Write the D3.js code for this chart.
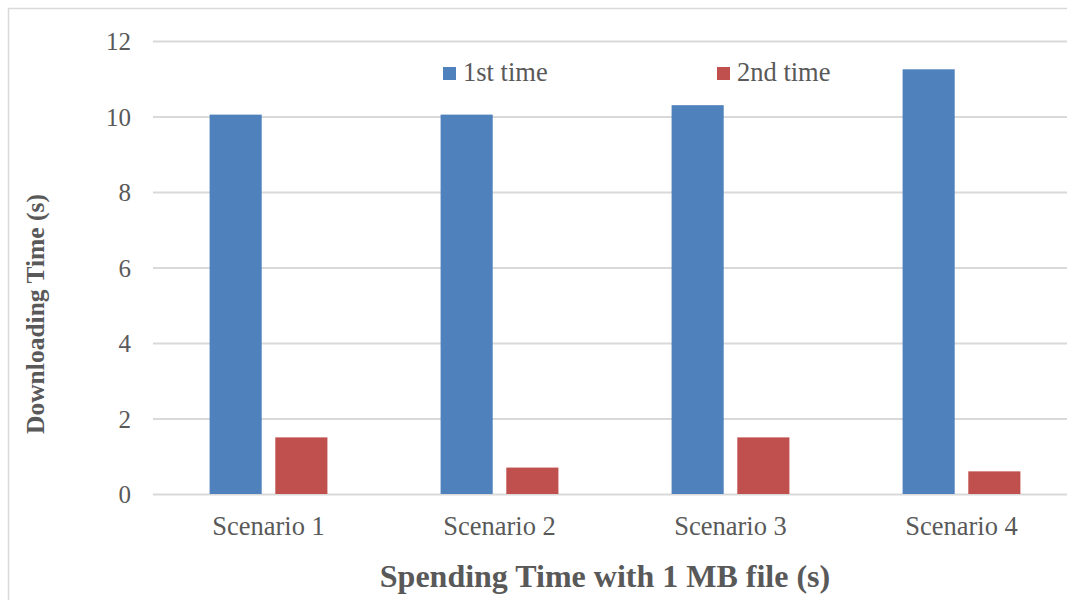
<!DOCTYPE html>
<html>
<head>
<meta charset="utf-8">
<script src="https://cdn.jsdelivr.net/npm/d3@7"></script>
<style>
  html, body { margin: 0; padding: 0; background: #ffffff; }
  svg { display: block; }
</style>
</head>
<body>
<svg id="chart" width="1067" height="600"></svg>
<script>
// Download times for a 1 MB file, first and second attempt per scenario
const categories = ["Scenario 1", "Scenario 2", "Scenario 3", "Scenario 4"];
const seriesNames = ["1st time", "2nd time"];
const firstTime = [10.05, 10.05, 10.3, 11.25];
const secondTime = [1.5, 0.7, 1.5, 0.6];
const yTicks = [0, 2, 4, 6, 8, 10, 12];
const colors = ["#4F81BD", "#C0504D"];

const svg = d3.select("#chart");
const font = "'Liberation Serif', 'Times New Roman', serif";
const textColor = "#595959";

// chart frame
svg.append("rect")
  .attr("x", 8.5).attr("y", 8.5)
  .attr("width", 1200).attr("height", 700)
  .attr("fill", "#ffffff")
  .attr("stroke", "#D9D9D9")
  .attr("stroke-width", 1.5);

const plot = { left: 153, right: 1077, top: 41, bottom: 494 };

const x = d3.scaleBand()
  .domain(categories)
  .range([plot.left, plot.right])
  .paddingInner(0.49)
  .paddingOuter(0.245);

const xInner = d3.scaleBand()
  .domain(seriesNames)
  .range([0, x.bandwidth()])
  .paddingInner(0.207)
  .paddingOuter(0);

const y = d3.scaleLinear()
  .domain([0, 12])
  .range([plot.bottom, plot.top]);

// horizontal gridlines
const yAxis = d3.axisLeft(y)
  .tickValues(yTicks)
  .tickSize(-(plot.right - plot.left))
  .tickPadding(22)
  .tickFormat(d3.format("d"));

const gy = svg.append("g")
  .attr("transform", `translate(${plot.left},0)`)
  .call(yAxis);
gy.select(".domain").remove();
gy.selectAll(".tick line")
  .attr("stroke", "#D9D9D9")
  .attr("stroke-width", 2);
gy.selectAll(".tick text")
  .attr("fill", textColor)
  .style("font-family", font)
  .style("font-size", "25px")
  .attr("dy", "0.34em");

// bars
const data = categories.map((c, i) => ({
  category: c,
  values: [
    { name: seriesNames[0], value: firstTime[i], color: colors[0] },
    { name: seriesNames[1], value: secondTime[i], color: colors[1] }
  ]
}));

const groups = svg.append("g").selectAll("g")
  .data(data)
  .join("g")
  .attr("transform", d => `translate(${x(d.category)},0)`);

groups.selectAll("rect")
  .data(d => d.values)
  .join("rect")
  .attr("x", d => xInner(d.name))
  .attr("y", d => y(d.value))
  .attr("width", xInner.bandwidth())
  .attr("height", d => y(0) - y(d.value))
  .attr("fill", d => d.color);

// category labels
const xAxis = d3.axisBottom(x).tickSize(0).tickPadding(22);
const gx = svg.append("g")
  .attr("transform", `translate(0,${plot.bottom})`)
  .call(xAxis);
gx.select(".domain").remove();
gx.selectAll(".tick text")
  .attr("fill", textColor)
  .style("font-family", font)
  .style("font-size", "26.5px");

// legend
const legendX = [443, 717];
const legend = svg.append("g").selectAll("g")
  .data(seriesNames)
  .join("g")
  .attr("transform", (d, i) => `translate(${legendX[i]},67)`);
legend.append("rect")
  .attr("width", 13).attr("height", 13)
  .attr("fill", (d, i) => colors[i]);
legend.append("text")
  .attr("x", 20).attr("y", 14)
  .attr("fill", textColor)
  .style("font-family", font)
  .style("font-size", "26.5px")
  .text(d => d);

// axis titles
svg.append("text")
  .attr("x", 605).attr("y", 587)
  .attr("text-anchor", "middle")
  .attr("fill", textColor)
  .style("font-family", font)
  .style("font-size", "32px")
  .style("font-weight", "bold")
  .text("Spending Time with 1 MB file (s)");

svg.append("text")
  .attr("transform", "translate(44,314) rotate(-90)")
  .attr("text-anchor", "middle")
  .attr("fill", textColor)
  .style("font-family", font)
  .style("font-size", "25.5px")
  .style("font-weight", "bold")
  .text("Downloading Time (s)");
</script>
</body>
</html>
